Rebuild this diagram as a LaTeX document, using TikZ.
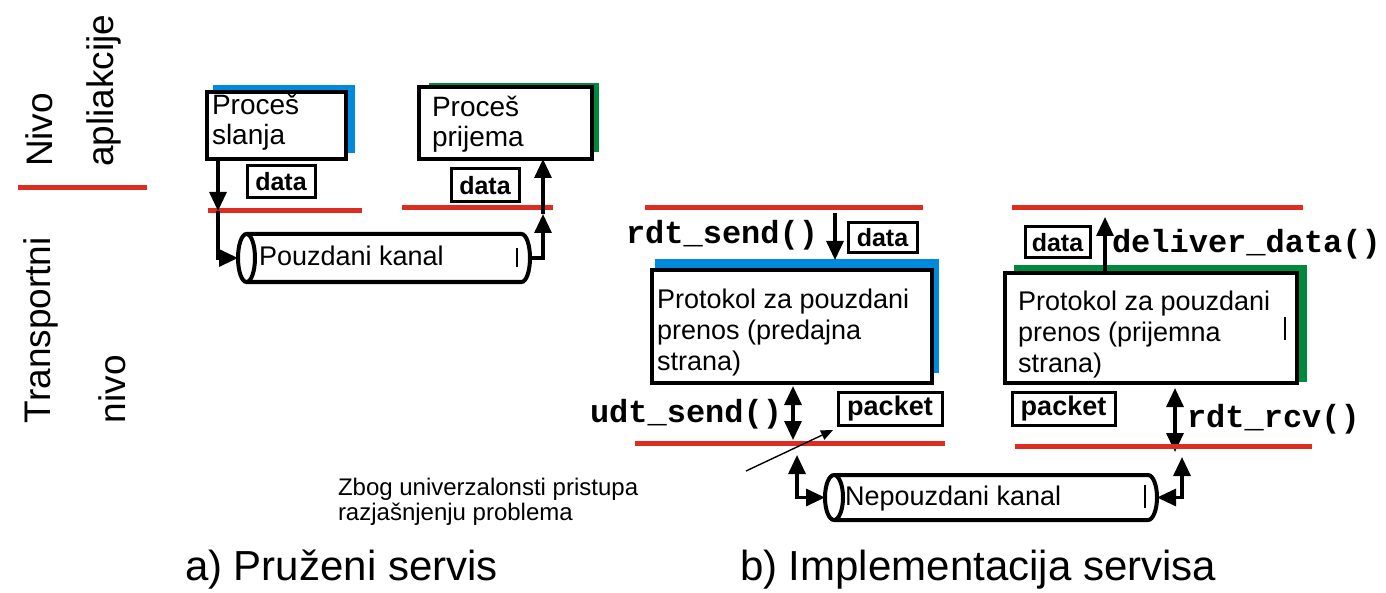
\documentclass[tikz,border=0pt]{standalone}
\usepackage{fontspec}
\setmainfont{Liberation Sans}
\setmonofont{Liberation Mono}
\usetikzlibrary{arrows.meta}

\definecolor{lyrred}{RGB}{221,45,32}
\definecolor{sndblue}{RGB}{0,138,222}
\definecolor{rcvgreen}{RGB}{0,137,61}

\tikzset{
  layer/.style={draw=lyrred, line width=2.5pt},
  procbox/.style={draw, line width=2pt, fill=white},
  msgbox/.style={draw, line width=1.5pt, font=\fontsize{12.5}{14}\selectfont\bfseries},
  lbl/.style={font=\fontsize{13.5}{15.5}\selectfont, align=left, anchor=base west},
  fn/.style={font=\fontsize{16}{18}\selectfont\ttfamily\bfseries, anchor=base west},
  side/.style={font=\fontsize{18.5}{20}\selectfont, rotate=90, anchor=base west},
  caption/.style={font=\fontsize{21}{24}\selectfont, anchor=base west},
  flow/.style={line width=1.6pt, -{Triangle[length=9.5pt,width=8.5pt]}},
  flowboth/.style={line width=1.6pt, {Triangle[length=9.5pt,width=8.5pt]}-{Triangle[length=9.5pt,width=8.5pt]}},
  pipeline/.style={draw, line width=2pt, fill=white},
}

\begin{document}
\begin{tikzpicture}[x=0.5pt,y=-0.5pt]
  \tikzstyle{every node}+=[inner sep=0pt, outer sep=0pt]
  \useasboundingbox (0,0) rectangle (1386,593);

  % layer names
  \draw[layer] (18,188) -- (147,188);
  \node[side] (nivoA) at (52,167) {Nivo};
  \node[side] (aplA) at (113,167) {apliakcije};
  \node[side] (trans) at (50,423) {Transportni};
  \node[side] (nivoT) at (125,423) {nivo};

  % a) provided service
  \fill[sndblue] (213,85) rectangle (355,153);
  \node[procbox, minimum width=69.5pt, minimum height=33.5pt] (sendA) at (276.5,125.5) {};
  \node[lbl, font=\fontsize{14}{15}\selectfont] (sendAtxt) at (212,145) {Proceš\\slanja};
  \fill[rcvgreen] (429,83) rectangle (599,152);
  \node[procbox, minimum width=86.5pt, minimum height=36pt] (recvA) at (505.5,123) {};
  \node[lbl, font=\fontsize{14}{15}\selectfont] (recvAtxt) at (432,147) {Proceš\\prijema};
  \node[msgbox, minimum width=34pt, minimum height=16pt] (dataA1) at (281,182) {data};
  \node[msgbox, minimum width=34pt, minimum height=16.5pt] (dataA2) at (485,185.5) {data};
  \draw[layer] (208,211) -- (362,211);
  \draw[layer] (402,208) -- (553,208);
  \node[minimum width=146pt, minimum height=24pt] (chanA) at (384,258) {};
  \draw[pipeline] ([xshift=4.25pt]chanA.north west) -- ([xshift=-4.25pt]chanA.north east)
    arc[start angle=90, end angle=-90, x radius=4.25pt, y radius=12pt] -- ([xshift=4.25pt]chanA.south west);
  \draw[pipeline] ([xshift=4.25pt]chanA.west) ellipse [x radius=4.25pt, y radius=12pt];
  \node[lbl] (chanAtxt) at (259,265) {Pouzdani kanal};
  \draw[line width=1pt] (517,248) -- (517,267);
  \coordinate (aL) at (218,211);
  \coordinate (aR) at (543,214);
  \draw[flow] (sendA.south -| aL) -- (aL);
  \draw[flow] (aL) |- (chanA.west);
  \draw[flow] (chanA.east) -| (aR);
  \draw[flow] (aR) -- (aR |- recvA.south);

  % b) implementation, sender side
  \draw[layer] (645,208) -- (923,208);
  \draw[layer] (1012,208) -- (1303,208);
  \node[fn] (rdtsend) at (626,243) {rdt\_send()};
  \node[msgbox, minimum width=34.5pt, minimum height=15pt] (dataB1) at (882.5,238) {data};
  \fill[sndblue] (655,259) rectangle (939,373);
  \node[procbox, minimum width=140pt, minimum height=56.5pt] (sendB) at (792,326.5) {};
  \node[lbl] (sendBtxt) at (657,370) {Protokol za pouzdani\\prenos (predajna\\strana)};
  \coordinate (sB) at (835,213);
  \draw[flow] (sB) -- (sB |- 0,260);
  \node[fn] (udtsend) at (590,422) {udt\_send()};
  \node[msgbox, minimum width=52pt, minimum height=16.5pt, font=\fontsize{13.5}{15}\selectfont\bfseries] (pktB1) at (890,408.5) {packet};
  \draw[flowboth] (793,386) -- (793,440);
  \draw[layer] (635,443) -- (945,443);

  % note
  \node[lbl, font=\fontsize{12}{12.5}\selectfont] (note) at (338,520) {Zbog univerzalonsti pristupa\\razjašnjenju problema};
  \coordinate (noteEnd) at (746,471);
  \draw[line width=0.7pt, -{Triangle[length=6pt,width=5pt]}] (noteEnd) -- (833,430);

  % unreliable channel
  \node[minimum width=166pt, minimum height=22.5pt] (chanB) at (991,497.5) {};
  \draw[pipeline] ([xshift=4.5pt]chanB.north west) -- ([xshift=-4.5pt]chanB.north east)
    arc[start angle=90, end angle=-90, x radius=4.5pt, y radius=11.25pt] -- ([xshift=4.5pt]chanB.south west);
  \draw[pipeline] ([xshift=4.5pt]chanB.west) ellipse [x radius=4.5pt, y radius=11.25pt];
  \node[lbl] (chanBtxt) at (845,505) {Nepouzdani kanal};
  \draw[line width=1pt] (1145,485) -- (1145,508);
  \draw[flowboth] (797,455) |- (chanB.west);
  \draw[flowboth] (1182,457) |- (chanB.east);

  % b) implementation, receiver side
  \node[msgbox, minimum width=32.5pt, minimum height=15.5pt] (dataB2) at (1057.5,242.5) {data};
  \fill[rcvgreen] (1014,265) rectangle (1307,382);
  \node[procbox, minimum width=146pt, minimum height=55pt] (recvB) at (1151,328) {};
  \node[lbl] (recvBtxt) at (1018,372) {Protokol za pouzdani\\prenos (prijemna\\strana)};
  \draw[line width=1pt] (1285,317) -- (1285,340);
  \coordinate (rB) at (1105,217);
  \draw[flow] (rB |- recvB.north) -- (rB);
  \node[fn] (deliver) at (1112,253) {deliver\_data()};
  \node[msgbox, minimum width=51.5pt, minimum height=16.5pt, font=\fontsize{13.5}{15}\selectfont\bfseries] (pktB2) at (1063.5,408.5) {packet};
  \draw[flowboth] (1175,388) -- (1175,452);
  \node[fn] (rdtrcv) at (1187,427) {rdt\_rcv()};
  \draw[layer] (1015,446) -- (1312,446);

  % captions
  \node[caption] (capA) at (185,580) {a) Pruženi servis};
  \node[caption] (capB) at (740,580) {b) Implementacija servisa};
\end{tikzpicture}
\end{document}
